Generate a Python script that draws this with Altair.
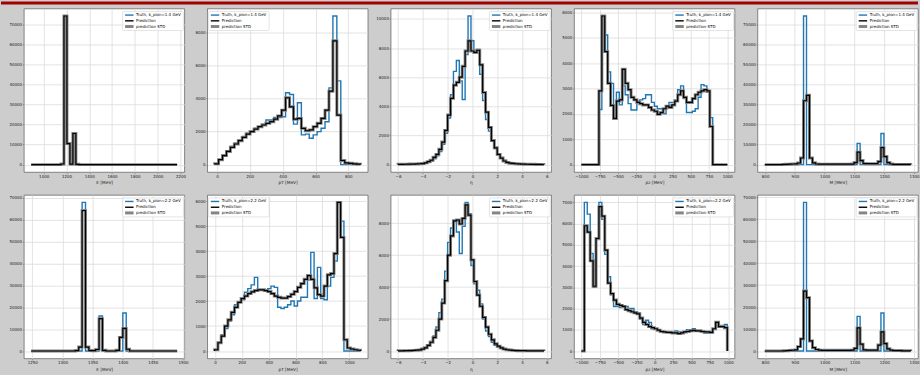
import altair as alt
import pandas as pd

# ---------------- data (bin start, bin width, counts) ----------------
# row 1 : k_pion = 1.4 GeV
E14_bins = (891.0, 26.1)
E14_truth = [0, 0, 0, 0, 0, 0, 0, 0, 0, 0,
             0, 74000, 10400, 0, 15400, 0, 0, 0, 0, 0,
             0, 0, 0, 0, 0, 0, 0, 0, 0, 0,
             0, 0, 0, 0, 0, 0, 0, 0, 0, 0,
             0, 0, 0, 0, 0, 0, 0, 0, 0]
E14_pred = [0, 0, 0, 0, 0, 0, 0, 0, 0, 0,
            300, 74000, 10500, 250, 15500, 150, 0, 0, 0, 0,
            0, 0, 0, 0, 0, 0, 0, 0, 0, 0,
            0, 0, 0, 0, 0, 0, 0, 0, 0, 0,
            0, 0, 0, 0, 0, 0, 0, 0, 0]

PT14_bins = (-14.0, 24.0)
PT14_truth = [50, 300, 600, 850, 1100, 1300, 1500, 1700, 1900, 2050,
              2200, 2300, 2450, 2700, 2700, 2850, 2850, 2900, 4350, 4250,
              2450, 3750, 1800, 1850, 1600, 1800, 2000, 2200, 2600, 4650,
              9000, 5070, 0, 0, 0, 0, 0]
PT14_pred = [50, 300, 550, 800, 1050, 1250, 1450, 1650, 1850, 2000,
             2150, 2300, 2400, 2500, 2600, 2750, 2950, 3300, 4050, 3500,
             2750, 2800, 2200, 2050, 2100, 2300, 2500, 2800, 3300, 4450,
             7500, 3000, 250, 100, 80, 50, 30]

ETA14_bins = (-6.0, 0.2352)
ETA14_truth = [15, 15, 20, 25, 30, 35, 40, 50, 60, 100,
               170, 250, 400, 600, 900, 1400, 2150, 3200, 4800, 6400,
               7150, 5750, 4470, 7550, 10200, 8500, 7650, 7900, 6200, 4400,
               3100, 2300, 1600, 1100, 750, 500, 300, 200, 120, 80,
               60, 45, 35, 30, 25, 20, 20, 15, 15, 10]
ETA14_pred = [20, 20, 25, 30, 35, 40, 50, 60, 70, 120,
              200, 300, 500, 700, 1050, 1550, 2350, 3400, 4550, 5450,
              5650, 6000, 6750, 7800, 8500, 7800, 7700, 7850, 6850, 4950,
              3600, 2550, 1650, 1150, 700, 450, 250, 150, 100, 80,
              60, 45, 35, 30, 25, 20, 20, 15, 15, 10]

PZ14_bins = (-1000.0, 40.0)
PZ14_truth = [0, 0, 0, 0, 0, 0, 2170, 5100, 5100, 3650,
              3200, 1820, 2850, 2350, 3100, 2750, 2400, 2150, 2150, 2500,
              2550, 2600, 2750, 2750, 2450, 2300, 2200, 2200, 2000, 2300,
              2450, 2450, 2550, 2950, 3100, 2600, 2050, 2050, 2100, 2200,
              2650, 3150, 3100, 2850, 1850, 0, 0, 0, 0, 0]
PZ14_pred = [0, 0, 0, 0, 0, 0, 2900, 5850, 4450, 3200,
             2330, 1820, 2500, 2550, 3750, 3200, 2950, 2650, 2550, 2450,
             2400, 2350, 2350, 2250, 2150, 2100, 1980, 2050, 2200, 2300,
             2250, 2350, 2500, 2750, 2900, 2650, 2450, 2450, 2600, 2750,
             2850, 2900, 2950, 2900, 1500, 0, 0, 0, 0, 0]

M14_bins = (799.0, 10.0)
M14_truth = [0, 0, 0, 0, 0, 0, 0, 0, 0, 0,
             0, 0, 0, 74000, 0, 0, 0, 0, 0, 0,
             0, 0, 0, 0, 0, 0, 0, 0, 0, 0,
             0, 10600, 0, 0, 0, 0, 0, 0, 0, 15500,
             0, 0, 0, 0, 0, 0, 0, 0, 0]
M14_pred = [0, 0, 0, 0, 0, 0, 100, 150, 200, 300,
            350, 800, 3300, 31800, 34500, 3300, 900, 300, 200, 200,
            200, 200, 200, 200, 200, 200, 200, 200, 200, 250,
            1000, 6200, 2000, 500, 450, 450, 450, 450, 1500, 8500,
            4000, 1000, 300, 100, 100, 100, 100, 100, 100]

# row 2 : k_pion = 2.2 GeV
E22_bins = (1248.2, 5.63)
E22_truth = [0, 0, 0, 0, 0, 0, 0, 0, 0, 0,
             0, 0, 0, 0, 0, 67900, 0, 0, 0, 0,
             16000, 0, 0, 0, 0, 0, 0, 17400, 0, 0,
             0, 0, 0, 0, 0, 0, 0, 0, 0, 0,
             0, 0, 0]
E22_pred = [0, 0, 0, 0, 0, 0, 0, 0, 0, 0,
            0, 0, 0, 200, 1800, 64200, 1800, 200, 150, 700,
            14800, 300, 0, 0, 0, 300, 6200, 10300, 800, 0,
            0, 0, 0, 0, 0, 0, 0, 0, 0, 0,
            0, 0, 0]

PT22_bins = (-2.9, 24.7)
PT22_truth = [50, 350, 650, 900, 1200, 1450, 1850, 1950, 2050, 2350,
              2500, 2650, 2950, 2450, 2450, 2450, 2500, 2600, 2550, 1750,
              1700, 1750, 1850, 2000, 1800, 2000, 2150, 2150, 2850, 3950,
              2100, 3350, 2100, 2050, 2600, 2950, 3600, 5900, 5200, 0,
              0, 0, 0, 0]
PT22_pred = [50, 330, 600, 1000, 1250, 1550, 1750, 1950, 2100, 2200,
             2300, 2370, 2420, 2450, 2450, 2420, 2380, 2300, 2200, 2150,
             2120, 2120, 2180, 2270, 2380, 2550, 2700, 2870, 3020, 2870,
             2530, 2260, 2200, 2600, 3050, 3100, 3900, 5950, 4550, 450,
             120, 80, 50, 30]

ETA22_bins = (-6.0, 0.2352)
ETA22_truth = [10, 10, 15, 20, 25, 35, 45, 60, 100, 180,
               350, 600, 950, 1500, 2400, 3250, 5000, 6800, 7700, 8100,
               7450, 6100, 7800, 9300, 8600, 5350, 4200, 3800, 2950, 2000,
               1250, 900, 550, 350, 250, 150, 100, 70, 50, 35,
               25, 20, 15, 15, 10, 10, 10, 10, 10, 10]
ETA22_pred = [10, 10, 20, 20, 30, 40, 50, 70, 120, 200,
              350, 550, 850, 1300, 2000, 3000, 4400, 6000, 7200, 8150,
              8200, 7950, 8300, 9150, 8500, 5700, 4350, 3500, 2800, 2100,
              1500, 1050, 700, 450, 300, 200, 120, 80, 60, 40,
              30, 20, 20, 20, 10, 10, 10, 10, 10, 10]

PZ22_bins = (-1000.0, 39.76)
PZ22_truth = [0, 7000, 6450, 4600, 3000, 5250, 7000, 6200, 4550, 3500,
              2650, 2100, 2100, 2050, 2100, 2100, 2000, 2000, 1850, 1800,
              1500, 1250, 1450, 1350, 1050, 1050, 1000, 950, 900, 900,
              850, 850, 950, 900, 900, 900, 1000, 1000, 1050, 950,
              950, 950, 850, 850, 850, 1050, 1300, 1200, 1200, 1250]
PZ22_pred = [0, 5900, 5600, 4250, 3050, 5300, 6800, 6350, 4750, 3200,
             2700, 2400, 2200, 2150, 2100, 1950, 1900, 1850, 1800, 1750,
             1550, 1350, 1250, 1150, 1100, 1050, 980, 920, 900, 880,
             880, 850, 850, 820, 850, 900, 920, 950, 970, 950,
             950, 920, 900, 900, 880, 1050, 1350, 1150, 1150, 1100]

M22_bins = (799.0, 10.0)
M22_truth = [0, 0, 0, 0, 0, 0, 0, 0, 0, 0,
             0, 0, 0, 67700, 0, 0, 0, 0, 0, 0,
             0, 0, 0, 0, 0, 0, 0, 0, 0, 0,
             0, 15800, 0, 0, 0, 0, 0, 0, 0, 17350,
             0, 0, 0, 0, 0, 0, 0, 0, 0]
M22_pred = [0, 0, 0, 0, 0, 0, 100, 150, 250, 350,
            500, 2000, 5500, 27300, 24300, 4600, 1500, 700, 400, 300,
            300, 300, 300, 300, 300, 300, 300, 300, 300, 400,
            1200, 10500, 3100, 500, 400, 400, 400, 400, 2700, 8700,
            3400, 1000, 400, 200, 200, 200, 100, 100, 100]

# ticks and titles
E14_xticks = [1000, 1200, 1400, 1600, 1800, 2000, 2200]
E22_xticks = [1250, 1300, 1350, 1400, 1450, 1500]
PT14_xticks = [0, 200, 400, 600, 800]
PT22_xticks = [0, 200, 400, 600, 800, 1000]
ETA_xticks = [-6, -4, -2, 0, 2, 4, 6]
PZ_xticks = [-1000, -750, -500, -250, 0, 250, 500, 750, 1000]
M_xticks = [800, 900, 1000, 1100, 1200, 1300]

Y70k = [0, 10000, 20000, 30000, 40000, 50000, 60000, 70000]
PT14_yticks = [0, 2000, 4000, 6000, 8000]
ETA14_yticks = [0, 2000, 4000, 6000, 8000, 10000]
PZ14_yticks = [0, 1000, 2000, 3000, 4000, 5000, 6000]
PT22_yticks = [0, 1000, 2000, 3000, 4000, 5000, 6000]
ETA22_yticks = [0, 2000, 4000, 6000, 8000]
PZ22_yticks = [0, 1000, 2000, 3000, 4000, 5000, 6000, 7000]

TITLES = ["E [MeV]", "pT [MeV]", "η", "pz [MeV]", "M [MeV]"]
TRUTH_LABELS = ["Truth, k_pion=1.4 GeV", "Truth, k_pion=2.2 GeV"]
SERIES_LABELS = ["Prediction", "prediction STD"]

# ---------------- styling ----------------
W, H = 161, 164
BLUE = "#1f77b4"
STDGRAY = "#858585"
FONT = "DejaVu Sans"
one = pd.DataFrame({"a": [0]})


def steps(start, width, counts):
    n = len(counts)
    xs = [start] + [start + i * width for i in range(n)] + [start + n * width] * 2
    ys = [0] + list(counts) + [counts[-1], 0]
    return pd.DataFrame({"x": xs, "y": ys, "o": list(range(len(xs)))})


def legend_layers(truth_label, left):
    bx0 = 1.0 if left else W - 62.0
    sx0 = bx0 + 2.5
    tx = bx0 + 13.5
    ys = [6.5, 12.3, 18.0]
    layers = [
        alt.Chart(one).mark_rect(fill="white", fillOpacity=0.85, stroke="#d4d4d4",
                                 strokeWidth=0.6, cornerRadius=1).encode(
            x=alt.value(bx0), x2=alt.value(bx0 + 61), y=alt.value(3), y2=alt.value(22)),
        alt.Chart(one).mark_rule(color=BLUE, strokeWidth=1.4).encode(
            x=alt.value(sx0), x2=alt.value(sx0 + 8.5), y=alt.value(ys[0])),
        alt.Chart(one).mark_rule(color="black", strokeWidth=1.4).encode(
            x=alt.value(sx0), x2=alt.value(sx0 + 8.5), y=alt.value(ys[1])),
        alt.Chart(one).mark_rect(color=STDGRAY).encode(
            x=alt.value(sx0), x2=alt.value(sx0 + 8.5), y=alt.value(ys[2] - 1.5),
            y2=alt.value(ys[2] + 1.5)),
    ]
    for label, yy in zip([truth_label] + SERIES_LABELS, ys):
        layers.append(
            alt.Chart(one).mark_text(align="left", baseline="middle", font=FONT,
                                     fontSize=4, color="black").encode(
                x=alt.value(tx), y=alt.value(yy), text=alt.value(label)))
    return layers


def make_panel(bins, truth, pred, xticks, yticks, xtitle, truth_label,
               legend_left=False, top_bar=False):
    start, width = bins
    n = len(truth)
    lo, hi = start, start + n * width
    pad = 0.05 * (hi - lo)
    m = max(max(truth), max(pred))
    x = alt.X("x:Q", scale=alt.Scale(domain=[lo - pad, hi + pad], nice=False, zero=False),
              axis=alt.Axis(values=xticks, format="d", title=xtitle, grid=True))
    y = alt.Y("y:Q", scale=alt.Scale(domain=[-0.05 * m, 1.05 * m], nice=False, zero=False),
              axis=alt.Axis(values=yticks, format="d", title="", grid=True))
    o = alt.Order("o:Q")
    truth_l = alt.Chart(steps(start, width, truth)).mark_line(
        interpolate="step-after", color=BLUE, strokeWidth=1.4).encode(x=x, y=y, order=o)
    std_l = alt.Chart(steps(start, width, pred)).mark_line(
        interpolate="step-after", color=STDGRAY, strokeWidth=3.0).encode(x=x, y=y, order=o)
    pred_l = alt.Chart(steps(start, width, pred)).mark_line(
        interpolate="step-after", color="black", strokeWidth=1.2).encode(x=x, y=y, order=o)
    layers = [truth_l, std_l, pred_l] + legend_layers(truth_label, legend_left)
    if top_bar:
        layers.append(alt.Chart(one).mark_rect(color="#a30000").encode(
            x=alt.value(-23), x2=alt.value(897), y=alt.value(-7), y2=alt.value(-4)))
    return alt.layer(*layers).properties(width=W, height=H)


panels = [
    make_panel(E14_bins, E14_truth, E14_pred, E14_xticks, Y70k, TITLES[0], TRUTH_LABELS[0], top_bar=True),
    make_panel(PT14_bins, PT14_truth, PT14_pred, PT14_xticks, PT14_yticks, TITLES[1], TRUTH_LABELS[0], legend_left=True),
    make_panel(ETA14_bins, ETA14_truth, ETA14_pred, ETA_xticks, ETA14_yticks, TITLES[2], TRUTH_LABELS[0]),
    make_panel(PZ14_bins, PZ14_truth, PZ14_pred, PZ_xticks, PZ14_yticks, TITLES[3], TRUTH_LABELS[0]),
    make_panel(M14_bins, M14_truth, M14_pred, M_xticks, Y70k, TITLES[4], TRUTH_LABELS[0]),
    make_panel(E22_bins, E22_truth, E22_pred, E22_xticks, Y70k, TITLES[0], TRUTH_LABELS[1]),
    make_panel(PT22_bins, PT22_truth, PT22_pred, PT22_xticks, PT22_yticks, TITLES[1], TRUTH_LABELS[1], legend_left=True),
    make_panel(ETA22_bins, ETA22_truth, ETA22_pred, ETA_xticks, ETA22_yticks, TITLES[2], TRUTH_LABELS[1]),
    make_panel(PZ22_bins, PZ22_truth, PZ22_pred, PZ_xticks, PZ22_yticks, TITLES[3], TRUTH_LABELS[1]),
    make_panel(M22_bins, M22_truth, M22_pred, M_xticks, Y70k, TITLES[4], TRUTH_LABELS[1]),
]

chart = alt.concat(
    *panels, columns=5, spacing={"row": 23, "column": 23}, bounds="flush"
).properties(
    background="#cdcdcd",
    padding={"left": 0, "top": 0, "right": 0, "bottom": 3},
).configure_view(
    fill="white", stroke="#5a5a5a", strokeWidth=0.7
).configure_axis(
    labelFont=FONT, labelFontSize=4, labelColor="#222222",
    titleFont=FONT, titleFontSize=4.3, titleColor="#222222", titleFontWeight="normal",
    titlePadding=2.5, labelPadding=0.8, tickSize=1.5, tickColor="#555555", tickWidth=0.5,
    gridColor="#dcdcdc", gridWidth=0.8, domain=False, labelFlush=False, labelOverlap=False,
)

chart.save("out.html", embed_options={"renderer": "svg", "actions": False})
